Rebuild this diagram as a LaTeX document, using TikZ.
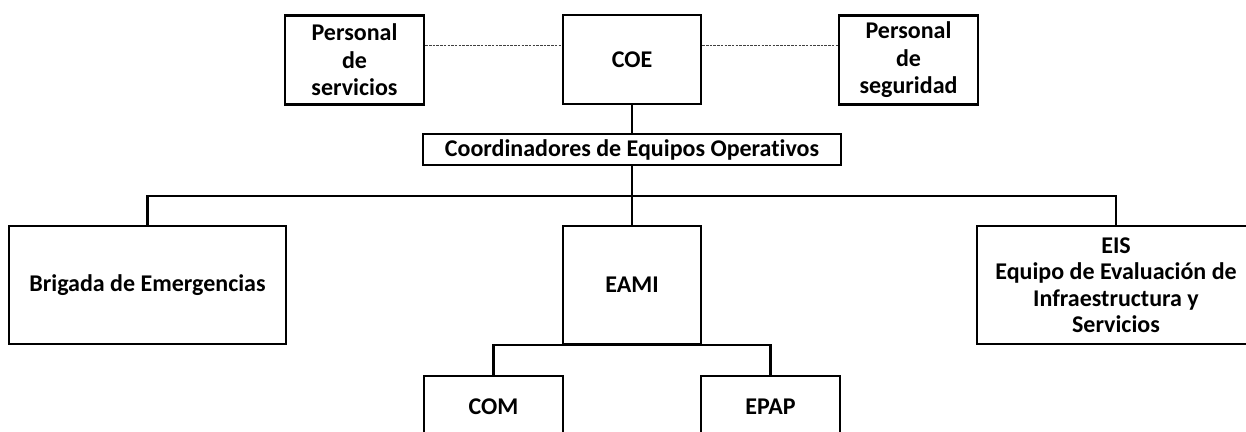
\documentclass[tikz,border=0pt]{standalone}
\usepackage{fontspec}
\setmainfont[Ligatures=NoCommon]{Carlito}
\begin{document}
\begin{tikzpicture}[x=1pt,y=-1pt,
  box/.style={draw, line width=2.6pt, inner sep=0pt, align=center,
    font=\fontsize{24}{27.5}\selectfont\bfseries},
  link/.style={line width=2.6pt, line join=miter},
  dotlink/.style={line width=1pt, black!75, dash pattern=on 2.5pt off 1.2pt}]
\useasboundingbox (0,0) rectangle (1246,431);
\clip (0,0) rectangle (1246,431);
\node[box, minimum width=139pt, minimum height=89pt] (ps) at (354.5,60) {Personal\\de\\servicios};
\node[box, minimum width=138pt, minimum height=89pt] (coe) at (632,59.5) {COE};
\node[box, minimum width=139pt, minimum height=89pt] (pseg) at (908.5,60) {Personal\\de\\seguridad};
\node[box, minimum width=418pt, minimum height=31pt] (coord) at (632,149.5) {Coordinadores de Equipos Operativos};
\node[box, minimum width=277pt, minimum height=118pt] (brig) at (147.5,285) {Brigada de Emergencias};
\node[box, minimum width=138pt, minimum height=118pt] (eami) at (632,285) {EAMI};
\node[box, minimum width=278pt, minimum height=118pt, font=\fontsize{24}{26.5}\selectfont\bfseries] (eis) at (1116,285) {EIS\\Equipo de Evaluación de\\Infraestructura y\\Servicios};
\node[box, minimum width=139pt, minimum height=62pt] (com) at (493.5,407) {COM};
\node[box, minimum width=139pt, minimum height=62pt] (epap) at (770.5,407) {EPAP};
\coordinate (dl) at (0,45);
\coordinate (bus) at (0,196);
\coordinate (sub) at (0,345);
\draw[dotlink] (ps.east |- dl) -- (coe.west |- dl);
\draw[dotlink] (coe.east |- dl) -- (pseg.west |- dl);
\draw[link] (coe.south) -- (coord.north);
\draw[link] (coord.south) -- (eami.north);
\draw[link] (brig.north) -- (brig.north |- bus) -- (eis.north |- bus) -- (eis.north);
\draw[link] (com.north) -- (com.north |- sub) -- (epap.north |- sub) -- (epap.north);
\end{tikzpicture}
\end{document}
